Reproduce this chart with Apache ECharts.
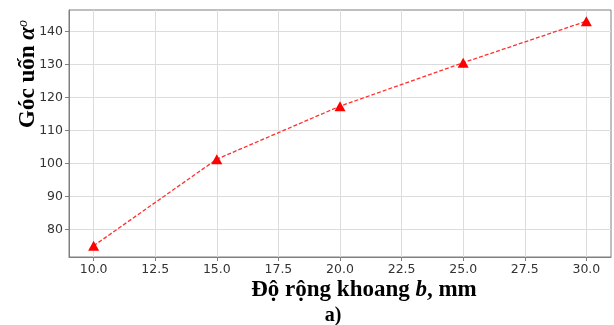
<!DOCTYPE html>
<html>
<head>
<meta charset="utf-8">
<script src="https://cdn.jsdelivr.net/npm/echarts@6/dist/echarts.min.js"></script>
<style>
  html, body { margin: 0; padding: 0; background: #fff; }
  #chart { width: 614px; height: 325px; }
</style>
</head>
<body>
<div id="chart"></div>
<script>
// Bend angle vs. gap width
const widths = [10, 15, 20, 25, 30];
const angles = [75.0, 101.3, 117.4, 130.6, 143.2];
const xTicks = [10, 12.5, 15, 17.5, 20, 22.5, 25, 27.5, 30];
const yTicks = [80, 90, 100, 110, 120, 130, 140];

const chart = echarts.init(document.getElementById('chart'));

const axisColor = '#7f7f7f';
const gridColor = '#dcdcdc';
const labelColor = '#333333';
const titleFont = '"Liberation Serif", "Times New Roman", serif';

chart.setOption({
  animation: false,
  grid: {
    left: 69, right: 3, top: 10, bottom: 68,
    show: true, borderColor: axisColor, borderWidth: 1
  },
  xAxis: {
    type: 'value', min: 9, max: 31,
    axisLine: { show: true, lineStyle: { color: axisColor, width: 1 } },
    axisTick: { show: true, length: 4, lineStyle: { color: axisColor }, customValues: xTicks },
    axisLabel: {
      customValues: xTicks, color: labelColor, fontSize: 12.5,
      fontFamily: '"DejaVu Sans", sans-serif', margin: 6,
      formatter: v => v.toFixed(1)
    },
    splitLine: { show: true, lineStyle: { color: gridColor, width: 1 } }
  },
  yAxis: {
    type: 'value', min: 71.6, max: 146.6,
    axisLine: { show: true, lineStyle: { color: axisColor, width: 1 } },
    axisTick: { show: true, length: 4, lineStyle: { color: axisColor }, customValues: yTicks },
    axisLabel: {
      customValues: yTicks, color: labelColor, fontSize: 12.5,
      fontFamily: '"DejaVu Sans", sans-serif', margin: 6
    },
    splitLine: { show: true, lineStyle: { color: gridColor, width: 1 } }
  },
  series: [{
    type: 'line',
    data: widths.map((w, i) => [w, angles[i]]),
    symbol: 'triangle',
    symbolSize: [11, 10],
    itemStyle: { color: '#ff0000' },
    lineStyle: { color: '#ff3030', width: 1.3, type: [4, 2] },
    z: 3
  }],
  graphic: [
    {
      type: 'text',
      x: 28, y: 74, rotation: Math.PI / 2,
      style: {
        text: '{t|Góc uốn }{a|α}{s|o}',
        align: 'center', verticalAlign: 'middle',
        rich: {
          t: { fontFamily: titleFont, fontWeight: 'bold', fontSize: 23, fill: '#000' },
          a: { fontFamily: titleFont, fontWeight: 'bold', fontStyle: 'italic', fontSize: 23, fill: '#000' },
          s: { fontFamily: titleFont, fontStyle: 'italic', fontSize: 14, fill: '#000', verticalAlign: 'top', padding: [0, 0, 9, 0] }
        }
      }
    },
    {
      type: 'text',
      x: 364, y: 290,
      style: {
        text: '{t|Độ rộng khoang }{b|b}{t|, mm}',
        align: 'center', verticalAlign: 'middle',
        rich: {
          t: { fontFamily: titleFont, fontWeight: 'bold', fontSize: 23, fill: '#000' },
          b: { fontFamily: titleFont, fontWeight: 'bold', fontStyle: 'italic', fontSize: 23, fill: '#000' }
        }
      }
    },
    {
      type: 'text',
      x: 333, y: 316,
      style: {
        text: 'a)', align: 'center', verticalAlign: 'middle',
        fontFamily: titleFont, fontWeight: 'bold', fontSize: 20, fill: '#000'
      }
    }
  ]
});
</script>
</body>
</html>
